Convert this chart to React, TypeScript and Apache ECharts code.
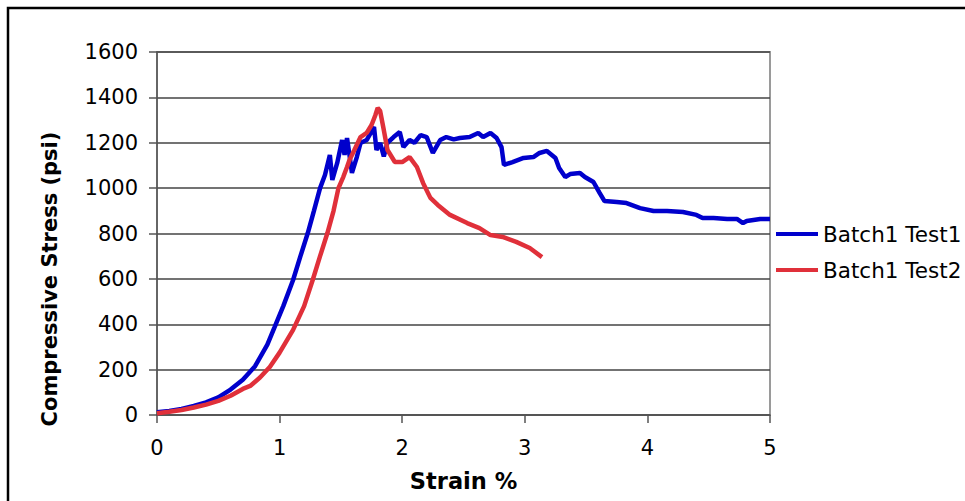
import React, { useEffect, useRef } from "react";
import * as echarts from "echarts";

const test1Strain = [0, 0.1, 0.2, 0.3, 0.4, 0.5, 0.6, 0.7, 0.8, 0.9, 0.96, 1.03, 1.11, 1.17, 1.23, 1.28, 1.33, 1.37, 1.41, 1.43, 1.47, 1.51, 1.53, 1.55, 1.57, 1.59, 1.63, 1.66, 1.71, 1.74, 1.77, 1.79, 1.82, 1.85, 1.88, 1.93, 1.98, 2.01, 2.06, 2.1, 2.15, 2.2, 2.25, 2.31, 2.36, 2.42, 2.47, 2.55, 2.62, 2.66, 2.72, 2.77, 2.81, 2.83, 2.9, 2.99, 3.07, 3.12, 3.18, 3.25, 3.28, 3.33, 3.37, 3.45, 3.49, 3.56, 3.61, 3.65, 3.75, 3.83, 3.94, 4.05, 4.16, 4.29, 4.4, 4.45, 4.54, 4.65, 4.73, 4.78, 4.81, 4.92, 5.0];
const test1Stress = [12, 18, 27, 40, 56, 78, 112, 155, 215, 310, 388, 480, 595, 700, 802, 900, 1000, 1058, 1146, 1036, 1111, 1212, 1146, 1221, 1146, 1067, 1137, 1199, 1212, 1240, 1270, 1168, 1199, 1140, 1200, 1225, 1247, 1181, 1212, 1200, 1234, 1225, 1155, 1212, 1225, 1215, 1221, 1225, 1243, 1225, 1243, 1221, 1181, 1102, 1115, 1133, 1137, 1155, 1164, 1133, 1089, 1049, 1062, 1067, 1049, 1027, 979, 943, 939, 934, 912, 899, 899, 895, 882, 868, 868, 864, 864, 846, 855, 864, 864];

const test2Strain = [0, 0.1, 0.2, 0.3, 0.4, 0.5, 0.6, 0.7, 0.76, 0.84, 0.92, 1.0, 1.11, 1.2, 1.27, 1.33, 1.39, 1.44, 1.48, 1.52, 1.55, 1.57, 1.61, 1.66, 1.71, 1.75, 1.78, 1.8, 1.82, 1.85, 1.88, 1.94, 2.0, 2.06, 2.12, 2.17, 2.23, 2.29, 2.39, 2.53, 2.63, 2.72, 2.82, 2.93, 3.04, 3.14];
const test2Stress = [8, 14, 22, 33, 46, 62, 85, 115, 128, 165, 212, 275, 375, 480, 595, 700, 802, 900, 1000, 1050, 1093, 1124, 1168, 1225, 1243, 1278, 1320, 1353, 1340, 1256, 1168, 1115, 1115, 1137, 1093, 1023, 957, 926, 882, 846, 824, 793, 785, 763, 736, 696];

const seriesNames = ["Batch1 Test1", "Batch1 Test2"];
const xTicks = [0, 1, 2, 3, 4, 5];
const yTicks = [0, 200, 400, 600, 800, 1000, 1200, 1400, 1600];
const xTitle = "Strain %";
const yTitle = "Compressive Stress (psi)";

const FONT = "DejaVu Sans, Verdana, sans-serif";

export default function App() {
  const ref = useRef<HTMLDivElement>(null);
  useEffect(() => {
    document.body.style.margin = "0";
    const chart = echarts.init(ref.current!, null, { renderer: "svg" });
    const pair = (xs: number[], ys: number[]) => xs.map((x, i) => [x, ys[i]]);
    chart.setOption({
      animation: false,
      backgroundColor: "#ffffff",
      textStyle: { fontFamily: FONT },
      grid: {
        left: 157,
        top: 52,
        right: 195,
        bottom: 86,
        show: true,
        borderColor: "#9a9a9a",
        borderWidth: 2,
        containLabel: false,
      },
      legend: {
        orient: "vertical",
        left: 776,
        top: 223,
        padding: 0,
        itemWidth: 42,
        itemHeight: 4,
        itemGap: 14,
        textStyle: { fontFamily: FONT, fontSize: 21.5, color: "#000" },
        data: seriesNames.map((n) => ({ name: n, icon: "rect" })),
      },
      xAxis: {
        type: "value",
        min: xTicks[0],
        max: xTicks[xTicks.length - 1],
        interval: 1,
        name: xTitle,
        nameLocation: "middle",
        nameGap: 54,
        nameTextStyle: { fontFamily: FONT, fontSize: 22.5, fontWeight: "bold", color: "#000" },
        axisLine: { lineStyle: { color: "#555", width: 1.5 } },
        axisTick: { show: true, length: 8, lineStyle: { color: "#555", width: 1.5 } },
        axisLabel: { fontFamily: FONT, fontSize: 21, color: "#000", margin: 22 },
        splitLine: { show: false },
      },
      yAxis: {
        type: "value",
        min: yTicks[0],
        max: yTicks[yTicks.length - 1],
        interval: 200,
        axisLine: { show: true, lineStyle: { color: "#555", width: 1.5 } },
        axisTick: { show: true, length: 8, lineStyle: { color: "#555", width: 1.5 } },
        axisLabel: { fontFamily: FONT, fontSize: 21, color: "#000", margin: 19, formatter: (v: number) => String(v) },
        splitLine: { show: true, lineStyle: { color: "#444", width: 1.5 } },
      },
      graphic: [
        {
          type: "rect",
          shape: { x: 8, y: 8, width: 1000, height: 600 },
          style: { fill: "none", stroke: "#000", lineWidth: 2.5 },
          silent: true,
        },
        {
          type: "text",
          x: 50,
          y: 279,
          rotation: Math.PI / 2,
          style: {
            text: yTitle,
            fontFamily: FONT,
            fontSize: 21,
            fontWeight: "bold",
            fill: "#000",
            textAlign: "center",
            textVerticalAlign: "middle",
          },
          silent: true,
        },
      ],
      series: [
        {
          name: seriesNames[0],
          type: "line",
          showSymbol: false,
          color: "#0000CC",
          lineStyle: { color: "#0000CC", width: 4.5 },
          data: pair(test1Strain, test1Stress),
        },
        {
          name: seriesNames[1],
          type: "line",
          showSymbol: false,
          color: "#E0303A",
          lineStyle: { color: "#E0303A", width: 4.5 },
          data: pair(test2Strain, test2Stress),
        },
      ],
    });
    return () => chart.dispose();
  }, []);
  return <div ref={ref} style={{ width: 965, height: 501 }} />;
}
